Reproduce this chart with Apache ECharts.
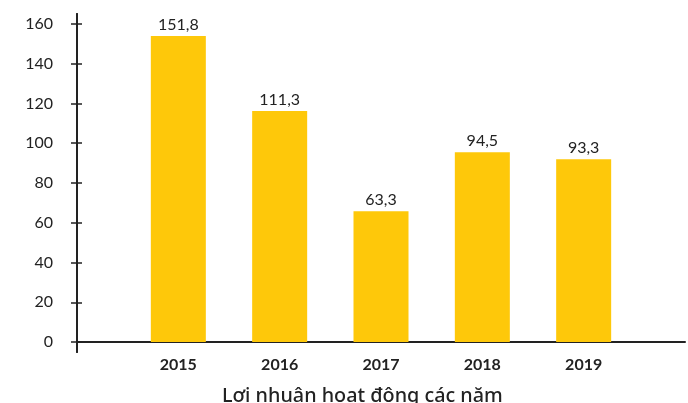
<!DOCTYPE html>
<html>
<head>
<meta charset="utf-8">
<script src="https://cdn.jsdelivr.net/npm/echarts@6/dist/echarts.min.js"></script>
<style>
  html, body { margin: 0; padding: 0; background: #fff; }
  #chart { width: 688px; height: 403px; }
</style>
</head>
<body>
<div id="chart"></div>
<script>
// các năm (ô rỗng ở hai đầu để cột nằm đúng vị trí như ảnh gốc)
const years = ['', '2015', '2016', '2017', '2018', '2019', ''];
// chiều cao cột
const barHeights = ['-', 153.9, 116.2, 65.8, 95.5, 92, '-'];
// nhãn giá trị in trên cột
const profitLabels = ['', '151,8', '111,3', '63,3', '94,5', '93,3', ''];
const yTicks = [0, 20, 40, 60, 80, 100, 120, 140, 160];
const chartTitle = 'Lợi nhuận hoạt động các năm';

const font = 'Lato, "Noto Sans", sans-serif';
const chart = echarts.init(document.getElementById('chart'));

const yBase = {
  type: 'value',
  min: -5,
  max: 165,
  position: 'left',
  splitLine: { show: false },
  axisLine: { show: true, lineStyle: { color: '#222', width: 2 } }
};

chart.setOption({
  animation: false,
  title: {
    text: chartTitle,
    left: 222,
    top: 386,
    padding: 0,
    textStyle: { fontFamily: '"Noto Sans", sans-serif', fontSize: 19.8, fontWeight: 500, color: '#222' }
  },
  grid: { left: 77, right: 3, top: 14, bottom: 51 },
  xAxis: {
    type: 'category',
    data: years,
    boundaryGap: false,
    axisLine: { onZero: true, lineStyle: { color: '#222', width: 2 } },
    axisTick: { show: false },
    axisLabel: {
      interval: 0,
      margin: 5,
      fontFamily: font,
      fontSize: 16,
      fontWeight: 'bold',
      color: '#222'
    }
  },
  yAxis: [
    Object.assign({}, yBase, {
      axisTick: { show: true, customValues: yTicks, length: 6, lineStyle: { color: '#222', width: 1.5 } },
      axisLabel: { customValues: yTicks, margin: 24, fontFamily: font, fontSize: 16, color: '#222' }
    }),
    Object.assign({}, yBase, {
      axisTick: { show: true, inside: true, customValues: yTicks, length: 5, lineStyle: { color: '#222', width: 1.5 } },
      axisLabel: { show: false }
    })
  ],
  series: [{
    type: 'bar',
    data: barHeights,
    barWidth: 55,
    itemStyle: { color: '#FEC80A' },
    label: {
      show: true,
      position: 'top',
      distance: 3,
      fontFamily: font,
      fontSize: 16,
      color: '#222',
      formatter: p => profitLabels[p.dataIndex]
    }
  }]
});
</script>
</body>
</html>
